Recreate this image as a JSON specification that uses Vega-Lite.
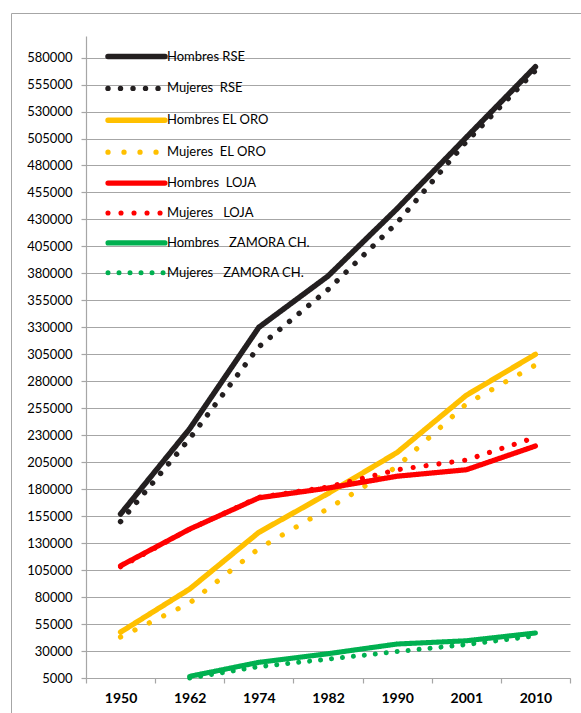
{
  "$schema": "https://vega.github.io/schema/vega-lite/v6.json",
  "width": 484,
  "height": 642,
  "autosize": "none",
  "padding": {"left": 86, "top": 36, "right": 11, "bottom": 35},
  "background": "white",
  "config": {"view": {"stroke": null}},
  "data": {
    "values": [
      {"serie": "Hombres RSE", "anio": "1950", "valor": 157000},
      {"serie": "Hombres RSE", "anio": "1962", "valor": 236000},
      {"serie": "Hombres RSE", "anio": "1974", "valor": 330000},
      {"serie": "Hombres RSE", "anio": "1982", "valor": 377500},
      {"serie": "Hombres RSE", "anio": "1990", "valor": 440000},
      {"serie": "Hombres RSE", "anio": "2001", "valor": 506000},
      {"serie": "Hombres RSE", "anio": "2010", "valor": 571500},
      {"serie": "Mujeres\u00a0 RSE", "anio": "1950", "valor": 150000},
      {"serie": "Mujeres\u00a0 RSE", "anio": "1962", "valor": 227000},
      {"serie": "Mujeres\u00a0 RSE", "anio": "1974", "valor": 312000},
      {"serie": "Mujeres\u00a0 RSE", "anio": "1982", "valor": 365000},
      {"serie": "Mujeres\u00a0 RSE", "anio": "1990", "valor": 427000},
      {"serie": "Mujeres\u00a0 RSE", "anio": "2001", "valor": 502000},
      {"serie": "Mujeres\u00a0 RSE", "anio": "2010", "valor": 568000},
      {"serie": "Hombres EL ORO", "anio": "1950", "valor": 47500},
      {"serie": "Hombres EL ORO", "anio": "1962", "valor": 87500},
      {"serie": "Hombres EL ORO", "anio": "1974", "valor": 140000},
      {"serie": "Hombres EL ORO", "anio": "1982", "valor": 176000},
      {"serie": "Hombres EL ORO", "anio": "1990", "valor": 214000},
      {"serie": "Hombres EL ORO", "anio": "2001", "valor": 267000},
      {"serie": "Hombres EL ORO", "anio": "2010", "valor": 305000},
      {"serie": "Mujeres\u00a0 EL ORO", "anio": "1950", "valor": 43000},
      {"serie": "Mujeres\u00a0 EL ORO", "anio": "1962", "valor": 74500},
      {"serie": "Mujeres\u00a0 EL ORO", "anio": "1974", "valor": 125000},
      {"serie": "Mujeres\u00a0 EL ORO", "anio": "1982", "valor": 162000},
      {"serie": "Mujeres\u00a0 EL ORO", "anio": "1990", "valor": 201000},
      {"serie": "Mujeres\u00a0 EL ORO", "anio": "2001", "valor": 259000},
      {"serie": "Mujeres\u00a0 EL ORO", "anio": "2010", "valor": 295000},
      {"serie": "Hombres\u00a0 LOJA", "anio": "1950", "valor": 109000},
      {"serie": "Hombres\u00a0 LOJA", "anio": "1962", "valor": 143000},
      {"serie": "Hombres\u00a0 LOJA", "anio": "1974", "valor": 172000},
      {"serie": "Hombres\u00a0 LOJA", "anio": "1982", "valor": 181000},
      {"serie": "Hombres\u00a0 LOJA", "anio": "1990", "valor": 192000},
      {"serie": "Hombres\u00a0 LOJA", "anio": "2001", "valor": 198000},
      {"serie": "Hombres\u00a0 LOJA", "anio": "2010", "valor": 220000},
      {"serie": "Mujeres\u00a0\u00a0 LOJA", "anio": "1950", "valor": 108000},
      {"serie": "Mujeres\u00a0\u00a0 LOJA", "anio": "1962", "valor": 143000},
      {"serie": "Mujeres\u00a0\u00a0 LOJA", "anio": "1974", "valor": 172500},
      {"serie": "Mujeres\u00a0\u00a0 LOJA", "anio": "1982", "valor": 182000},
      {"serie": "Mujeres\u00a0\u00a0 LOJA", "anio": "1990", "valor": 198000},
      {"serie": "Mujeres\u00a0\u00a0 LOJA", "anio": "2001", "valor": 207000},
      {"serie": "Mujeres\u00a0\u00a0 LOJA", "anio": "2010", "valor": 228000},
      {"serie": "Hombres\u00a0\u00a0 ZAMORA CH.", "anio": "1962", "valor": 6500},
      {"serie": "Hombres\u00a0\u00a0 ZAMORA CH.", "anio": "1974", "valor": 19500},
      {"serie": "Hombres\u00a0\u00a0 ZAMORA CH.", "anio": "1982", "valor": 27500},
      {"serie": "Hombres\u00a0\u00a0 ZAMORA CH.", "anio": "1990", "valor": 36500},
      {"serie": "Hombres\u00a0\u00a0 ZAMORA CH.", "anio": "2001", "valor": 39500},
      {"serie": "Hombres\u00a0\u00a0 ZAMORA CH.", "anio": "2010", "valor": 46700},
      {"serie": "Mujeres\u00a0\u00a0 ZAMORA CH.", "anio": "1962", "valor": 5000},
      {"serie": "Mujeres\u00a0\u00a0 ZAMORA CH.", "anio": "1974", "valor": 15500},
      {"serie": "Mujeres\u00a0\u00a0 ZAMORA CH.", "anio": "1982", "valor": 22500},
      {"serie": "Mujeres\u00a0\u00a0 ZAMORA CH.", "anio": "1990", "valor": 29500},
      {"serie": "Mujeres\u00a0\u00a0 ZAMORA CH.", "anio": "2001", "valor": 36000},
      {"serie": "Mujeres\u00a0\u00a0 ZAMORA CH.", "anio": "2010", "valor": 44000}
    ]
  },
  "encoding": {
    "x": {
      "field": "anio",
      "type": "ordinal",
      "scale": {"type": "band", "paddingInner": 0, "paddingOuter": 0},
      "axis": {
        "title": null,
        "tickBand": "extent",
        "grid": false,
        "labelAngle": 0,
        "domainColor": "#a6a6a6",
        "domainWidth": 1.2,
        "tickColor": "#a6a6a6",
        "tickWidth": 1.2,
        "tickSize": 5,
        "labelFont": "Lato",
        "labelFontSize": 14,
        "labelFontWeight": "bold",
        "labelColor": "#000000",
        "labelPadding": 8
      }
    },
    "y": {
      "field": "valor",
      "type": "quantitative",
      "scale": {"domain": [5000, 600000], "nice": false, "zero": false},
      "axis": {
        "title": null,
        "values": [5000, 30000, 55000, 80000, 105000, 130000, 155000, 180000, 205000, 230000, 255000, 280000, 305000, 330000, 355000, 380000, 405000, 430000, 455000, 480000, 505000, 530000, 555000, 580000],
        "format": "d",
        "grid": true,
        "gridColor": "#a6a6a6",
        "gridWidth": 1.2,
        "domainColor": "#a6a6a6",
        "domainWidth": 1.2,
        "tickColor": "#a6a6a6",
        "tickWidth": 1.2,
        "tickSize": 5,
        "labelFont": "Lato",
        "labelFontSize": 13,
        "labelColor": "#000000",
        "labelPadding": 9
      }
    }
  },
  "layer": [
    {
      "mark": {"type": "point", "opacity": 0, "filled": true},
      "encoding": {
        "fill": {
          "field": "valor",
          "type": "quantitative",
          "scale": {"range": ["rgba(255,255,255,0)", "rgba(255,255,255,0)"]},
          "legend": {
            "title": null,
            "orient": "none",
            "legendX": -75,
            "legendY": -23,
            "direction": "vertical",
            "labels": false,
            "labelExpr": "''",
            "labelFontSize": 0,
            "tickCount": 0,
            "padding": 0,
            "gradientLength": 730,
            "gradientThickness": 600,
            "gradientStrokeWidth": 0,
            "strokeColor": "#a6a6a6",
            "encode": {"gradient": {"update": {"opacity": {"value": 0}}}}
          }
        }
      }
    },
    {
      "mark": {"type": "line", "strokeCap": "round", "strokeJoin": "round"},
      "encoding": {
        "color": {
          "field": "serie",
          "type": "nominal",
          "sort": null,
          "scale": {
            "domain": ["Hombres RSE", "Mujeres\u00a0 RSE", "Hombres EL ORO", "Mujeres\u00a0 EL ORO", "Hombres\u00a0 LOJA", "Mujeres\u00a0\u00a0 LOJA", "Hombres\u00a0\u00a0 ZAMORA CH.", "Mujeres\u00a0\u00a0 ZAMORA CH."],
            "range": ["#231f20", "#231f20", "#ffc000", "#ffc000", "#ff0000", "#ff0000", "#00b050", "#00b050"]
          },
          "legend": {
            "title": null,
            "orient": "none",
            "legendX": 42,
            "legendY": 12,
            "padding": 0,
            "symbolType": "M-5,0H5",
            "symbolSize": 130,
            "labelFont": "Lato",
            "labelFontSize": 13,
            "labelColor": "#000000",
            "labelOffset": 22,
            "rowPadding": 8.9,
            "encode": {"symbols": {"update": {"strokeCap": {"value": "round"}}}}
          }
        },
        "strokeDash": {
          "field": "serie",
          "type": "nominal",
          "sort": null,
          "scale": {
            "domain": ["Hombres RSE", "Mujeres\u00a0 RSE", "Hombres EL ORO", "Mujeres\u00a0 EL ORO", "Hombres\u00a0 LOJA", "Mujeres\u00a0\u00a0 LOJA", "Hombres\u00a0\u00a0 ZAMORA CH.", "Mujeres\u00a0\u00a0 ZAMORA CH."],
            "range": [[1, 0], [0.01, 12.5], [1, 0], [0.01, 16], [1, 0], [0.01, 13], [1, 0], [0.01, 11]]
          },
          "legend": {
            "title": null,
            "orient": "none",
            "legendX": 42,
            "legendY": 12,
            "padding": 0,
            "symbolType": "M-5,0H5",
            "symbolSize": 130,
            "labelFont": "Lato",
            "labelFontSize": 13,
            "labelColor": "#000000",
            "labelOffset": 22,
            "rowPadding": 8.9,
            "encode": {"symbols": {"update": {"strokeCap": {"value": "round"}}}}
          }
        },
        "strokeWidth": {
          "field": "serie",
          "type": "nominal",
          "sort": null,
          "scale": {
            "domain": ["Hombres RSE", "Mujeres\u00a0 RSE", "Hombres EL ORO", "Mujeres\u00a0 EL ORO", "Hombres\u00a0 LOJA", "Mujeres\u00a0\u00a0 LOJA", "Hombres\u00a0\u00a0 ZAMORA CH.", "Mujeres\u00a0\u00a0 ZAMORA CH."],
            "range": [5.5, 5, 4.5, 7, 5, 5, 5.5, 4.5]
          },
          "legend": {
            "title": null,
            "orient": "none",
            "legendX": 42,
            "legendY": 12,
            "padding": 0,
            "symbolType": "M-5,0H5",
            "symbolSize": 130,
            "labelFont": "Lato",
            "labelFontSize": 13,
            "labelColor": "#000000",
            "labelOffset": 22,
            "rowPadding": 8.9,
            "encode": {"symbols": {"update": {"strokeCap": {"value": "round"}}}}
          }
        }
      }
    }
  ]
}
